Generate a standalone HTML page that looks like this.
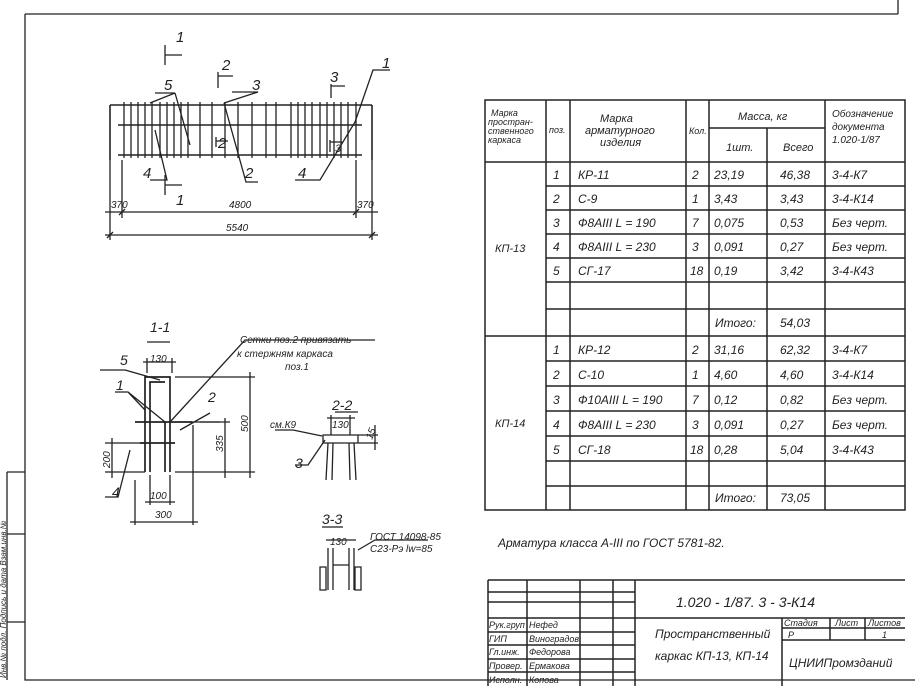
<!DOCTYPE html>
<html><head><meta charset="utf-8"><style>
html,body{margin:0;padding:0;background:#fff;width:915px;height:686px;overflow:hidden}
svg{display:block}
text{font-family:"Liberation Sans",sans-serif;font-style:italic;fill:#222}
</style></head><body>
<svg width="915" height="686" viewBox="0 0 915 686" xmlns="http://www.w3.org/2000/svg">
<g stroke="#222" fill="none" stroke-width="1.3">
<!-- frame -->
<path d="M25 14 H898 M25 14 V680 H915 M898 0 V14"/>
<path d="M7 472 H25 M7 472 V680 M7 534 H25 M7 622 H25"/>
<!-- elevation -->
<path d="M110 105 H372 M110 105 V160 M372 105 V160 M118 125 H362 M118 155 H362" stroke-width="1.6"/>
<path d="M124 102V158 M131 102V158 M138 102V158 M145 102V158 M152 102V158 M160 102V158 M167 102V158 M174 102V158 M181 102V158 M188 102V158 M200 102V158 M212 102V158 M225 102V158 M238 102V158 M252 102V158 M266 102V158 M276 102V158 M291 102V158 M298 102V158 M305 102V158 M312 102V158 M320 102V158 M327 102V158 M334 102V158 M341 102V158 M348 102V158 M356 102V158"/>
<path d="M165 45V65 M165 55H182 M165 175V195 M165 185H182 M218 72V88 M218 76H233 M331 84V98 M331 86H345 M216 137V147 M216 141H228 M330 140V152 M330 142H342"/>
<path d="M155 93H175 L150 103 M175 93L190 145 M150 180H167L155 130 M232 92H258 L224 103 M224 103L246 182H258 M295 180H320 L355 122 M355 122L373 70H390"/>
<path d="M122 160V218 M356 160V218 M110 160V240 M372 160V240 M105 212H378 M105 235H378"/>
<path d="M119 215L125 209 M353 215L359 209 M107 238L113 232 M369 238L375 232"/>
<!-- 1-1 -->
<path d="M147 342H170"/>
<path d="M145 472V377H170V472 M150 472V382H165 M135 422H192 M140 443H175 M165 422V472" stroke-width="1.7"/>
<path d="M147 358V373 M172 358V373 M143 362H176 M175 377H255 M190 422H230 M175 472H255 M225 418V478 M250 372V478 M105 443H145 M105 472H145 M112 438V478 M150 475V505 M170 475V505 M145 502H175 M135 480V525 M193 425V525 M130 522H198"/>
<path d="M100 370H125 L160 380 M115 392H128 L145 410 M128 392L165 422 M200 422H220 M105 497H118 L130 450 M170 422L245 340H375 M210 413L180 430"/>
<!-- 2-2 -->
<path d="M335 412H358"/>
<path d="M323 435H358 V443H323Z M328 443L326 480 M333 443L332 480 M349 443L350 480 M354 443L356 480 M331 415V435 M350 415V435 M327 418H355 M358 435H378 M358 443H378 M375 425V450"/>
<path d="M295 465H308 L325 440 M275 430H293 L322 436"/>
<!-- 3-3 -->
<path d="M322 527H343"/>
<path d="M328 548V590 M333 548V590 M349 548V590 M354 548V590 M333 565H349 M320 567H326V590H320Z M355 567H361V590H355Z M326 540H356 M358 550L375 540H428"/>
<!-- table -->
<g stroke-width="1.5">
<path d="M485 100H905V510H485Z M546 100V510 M570 100V510 M686 100V510 M709 100V510 M767 128V510 M825 100V510 M709 128H825 M485 162H905 M546 186H905 M546 210H905 M546 234H905 M546 258H905 M546 282H905 M546 309H905 M485 336H905 M546 361H905 M546 386H905 M546 411H905 M546 436H905 M546 461H905 M546 486H905"/>
<!-- title block -->
<path d="M488 580H905 M488 580V686 M527 580V686 M580 580V686 M613 580V686 M635 580V686 M488 592H635 M488 602H635 M488 618H905 M488 632H635 M488 645H635 M488 659H635 M488 672H635 M782 618V686 M782 628H905 M782 640H905 M830 618V640 M865 618V640"/>
</g>
</g>
<g font-size="15">
<text x="176" y="42">1</text><text x="176" y="205">1</text>
<text x="222" y="70">2</text><text x="218" y="148">2</text>
<text x="330" y="82">3</text><text x="335" y="152" font-size="11">3</text>
<text x="164" y="90">5</text><text x="252" y="90">3</text><text x="382" y="68">1</text>
<text x="143" y="178">4</text><text x="245" y="178">2</text><text x="298" y="178">4</text>
</g>
<g font-size="10">
<text x="111" y="208">370</text><text x="229" y="208">4800</text><text x="357" y="208">370</text>
<text x="226" y="231">5540</text>
<text x="150" y="332" font-size="14">1-1</text>
<text x="240" y="343">Сетки поз.2 привязать</text>
<text x="237" y="357">к стержням каркаса</text>
<text x="285" y="370">поз.1</text>
<text x="120" y="365" font-size="14">5</text><text x="150" y="362">130</text>
<text x="116" y="390" font-size="14">1</text><text x="208" y="402" font-size="14">2</text>
<text x="112" y="497" font-size="14">4</text><text x="150" y="499">100</text><text x="155" y="518">300</text>
<text transform="translate(110 468) rotate(-90)">200</text>
<text transform="translate(223 452) rotate(-90)">335</text>
<text transform="translate(248 432) rotate(-90)">500</text>
<text x="332" y="410" font-size="14">2-2</text>
<text x="270" y="428">см.К9</text><text x="332" y="428">130</text>
<text transform="translate(372 440) rotate(-70)">15</text>
<text x="295" y="468" font-size="14">3</text>
<text x="322" y="524" font-size="14">3-3</text>
<text x="330" y="545">130</text>
<text x="370" y="540">ГОСТ 14098-85</text><text x="370" y="552">С23-Рэ lw=85</text>
<text transform="translate(6 678) rotate(-90)" font-size="8">Инв.№ подл. Подпись и дата Взам.инв.№</text>
</g>
<g font-size="11">
<text x="491" y="116" font-size="9">Марка</text><text x="488" y="125" font-size="9">простран-</text><text x="488" y="134" font-size="9">ственного</text><text x="488" y="143" font-size="9">каркаса</text>
<text x="549" y="133" font-size="9">поз.</text>
<text x="600" y="122">Марка</text><text x="585" y="134">арматурного</text><text x="600" y="146">изделия</text>
<text x="689" y="134" font-size="9">Кол.</text>
<text x="738" y="120">Масса, кг</text><text x="726" y="151">1шт.</text><text x="783" y="151">Всего</text>
<text x="832" y="117" font-size="10">Обозначение</text><text x="832" y="130" font-size="10">документа</text><text x="832" y="143" font-size="10">1.020-1/87</text>
<text x="495" y="252">КП-13</text><text x="495" y="427">КП-14</text>
</g>
<g font-size="12">
<text x="553" y="179">1</text><text x="578" y="179">КР-11</text><text x="692" y="179">2</text><text x="714" y="179">23,19</text><text x="780" y="179">46,38</text><text x="832" y="179">3-4-К7</text>
<text x="553" y="203">2</text><text x="578" y="203">С-9</text><text x="692" y="203">1</text><text x="714" y="203">3,43</text><text x="780" y="203">3,43</text><text x="832" y="203">3-4-К14</text>
<text x="553" y="227">3</text><text x="578" y="227">Ф8АIII L = 190</text><text x="692" y="227">7</text><text x="714" y="227">0,075</text><text x="780" y="227">0,53</text><text x="832" y="227">Без черт.</text>
<text x="553" y="251">4</text><text x="578" y="251">Ф8АIII L = 230</text><text x="692" y="251">3</text><text x="714" y="251">0,091</text><text x="780" y="251">0,27</text><text x="832" y="251">Без черт.</text>
<text x="553" y="275">5</text><text x="578" y="275">СГ-17</text><text x="690" y="275">18</text><text x="714" y="275">0,19</text><text x="780" y="275">3,42</text><text x="832" y="275">3-4-К43</text>
<text x="715" y="327">Итого:</text><text x="780" y="327">54,03</text>
<text x="553" y="354">1</text><text x="578" y="354">КР-12</text><text x="692" y="354">2</text><text x="714" y="354">31,16</text><text x="780" y="354">62,32</text><text x="832" y="354">3-4-К7</text>
<text x="553" y="379">2</text><text x="578" y="379">С-10</text><text x="692" y="379">1</text><text x="714" y="379">4,60</text><text x="780" y="379">4,60</text><text x="832" y="379">3-4-К14</text>
<text x="553" y="404">3</text><text x="578" y="404">Ф10АIII L = 190</text><text x="692" y="404">7</text><text x="714" y="404">0,12</text><text x="780" y="404">0,82</text><text x="832" y="404">Без черт.</text>
<text x="553" y="429">4</text><text x="578" y="429">Ф8АIII L = 230</text><text x="692" y="429">3</text><text x="714" y="429">0,091</text><text x="780" y="429">0,27</text><text x="832" y="429">Без черт.</text>
<text x="553" y="454">5</text><text x="578" y="454">СГ-18</text><text x="690" y="454">18</text><text x="714" y="454">0,28</text><text x="780" y="454">5,04</text><text x="832" y="454">3-4-К43</text>
<text x="715" y="502">Итого:</text><text x="780" y="502">73,05</text>
<text x="498" y="547">Арматура  класса  А-III по ГОСТ 5781-82.</text>
<text x="676" y="607" font-size="14">1.020 - 1/87. 3 - 3-К14</text>
<text x="655" y="638">Пространственный</text><text x="655" y="660">каркас   КП-13, КП-14</text>
<text x="789" y="667">ЦНИИПромзданий</text>
</g>
<g font-size="9">
<text x="489" y="628">Рук.груп</text><text x="529" y="628">Нефед</text>
<text x="489" y="642">ГИП</text><text x="529" y="642">Виноградов</text>
<text x="489" y="655">Гл.инж.</text><text x="529" y="655">Федорова</text>
<text x="489" y="669">Провер.</text><text x="529" y="669">Ермакова</text>
<text x="489" y="683">Исполн.</text><text x="529" y="683">Копова</text>
<text x="784" y="626">Стадия</text><text x="835" y="626">Лист</text><text x="868" y="626">Листов</text>
<text x="788" y="638">Р</text><text x="882" y="638">1</text>
</g>
</svg>
</body></html>
